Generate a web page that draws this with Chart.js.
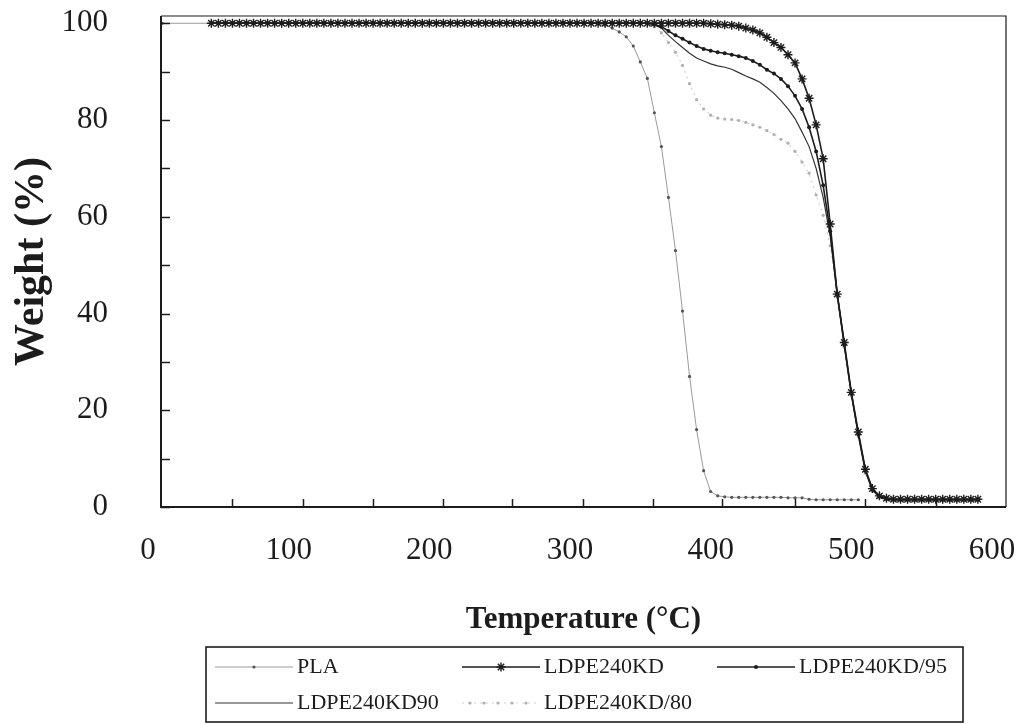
<!DOCTYPE html>
<html>
<head>
<meta charset="utf-8">
<script src="https://cdn.jsdelivr.net/npm/chart.js@4"></script>
<style>
  body { margin: 0; background: #fff; }
  #wrap { width: 1022px; height: 724px; }
</style>
</head>
<body>
<div id="wrap"><canvas id="tga" width="1022" height="724"></canvas></div>
<script>
// temperature (°C) of each reading
const temps = [
  10,
  45, 50, 55, 60, 65, 70, 75, 80, 85, 90,
  95, 100, 105, 110, 115, 120, 125, 130, 135, 140,
  145, 150, 155, 160, 165, 170, 175, 180, 185, 190,
  195, 200, 205, 210, 215, 220, 225, 230, 235, 240,
  245, 250, 255, 260, 265, 270, 275, 280, 285, 290,
  295, 300, 305, 310, 315, 320, 325, 330, 335, 340,
  345, 350, 355, 360, 365, 370, 375, 380, 385, 390,
  395, 400, 405, 410, 415, 420, 425, 430, 435, 440,
  445, 450, 455, 460, 465, 470, 475, 480, 485, 490,
  495, 500, 505, 510, 515, 520, 525, 530, 535, 540,
  545, 550, 555, 560, 565, 570, 575, 580, 585, 590
];

// weight (%)
const pla = [
  100,
  100, 100, 100, 100, 100, 100, 100, 100, 100, 100,
  100, 100, 100, 100, 100, 100, 100, 100, 100, 100,
  100, 100, 100, 100, 100, 100, 100, 100, 100, 100,
  100, 100, 100, 100, 100, 100, 100, 100, 100, 100,
  100, 100, 100, 100, 100, 100, 100, 100, 100, 100,
  100, 100, 100, 100, 100, 99.9, 99.6, 99, 98.2, 97.2,
  95.3, 92, 88.6, 81.5, 74.5, 64, 53, 40.5, 27, 16,
  7.5, 3.2, 2.3, 2.1, 2, 2, 2, 2, 2, 2,
  2, 2, 1.9, 1.9, 1.9, 1.6, 1.5, 1.5, 1.5, 1.5,
  1.5, 1.5, 1.5, null, null, null, null, null, null, null,
  null, null, null, null, null, null, null, null, null, null
];

const ldpe = [
  null,
  100, 100, 100, 100, 100, 100, 100, 100, 100, 100,
  100, 100, 100, 100, 100, 100, 100, 100, 100, 100,
  100, 100, 100, 100, 100, 100, 100, 100, 100, 100,
  100, 100, 100, 100, 100, 100, 100, 100, 100, 100,
  100, 100, 100, 100, 100, 100, 100, 100, 100, 100,
  100, 100, 100, 100, 100, 100, 100, 100, 100, 100,
  100, 100, 100, 100, 100, 100, 100, 100, 100, 100,
  100, 99.9, 99.8, 99.7, 99.6, 99.4, 99, 98.6, 98, 97.1,
  96, 95, 93.5, 91.8, 88.5, 84.5, 79, 72, 58.5, 44,
  34, 23.7, 15.5, 7.8, 3.8, 2.3, 1.8, 1.6, 1.6, 1.6,
  1.6, 1.6, 1.6, 1.6, 1.6, 1.6, 1.6, 1.6, 1.6, 1.6
];

const ldpe95 = [
  null,
  100, 100, 100, 100, 100, 100, 100, 100, 100, 100,
  100, 100, 100, 100, 100, 100, 100, 100, 100, 100,
  100, 100, 100, 100, 100, 100, 100, 100, 100, 100,
  100, 100, 100, 100, 100, 100, 100, 100, 100, 100,
  100, 100, 100, 100, 100, 100, 100, 100, 100, 100,
  100, 100, 100, 100, 100, 100, 100, 100, 100, 100,
  100, 100, 100, 99.8, 99.3, 98.4, 97.5, 96.8, 96, 95.3,
  94.7, 94.3, 94, 93.8, 93.5, 93.2, 92.8, 92.2, 91.4, 90.4,
  89.6, 88.5, 87, 85, 82.3, 78.5, 73.5, 66.5, 57, 44,
  33.5, 23.5, 15, 7.5, 3.6, 2.2, 1.7, 1.5, 1.5, 1.5,
  1.5, 1.5, 1.5, 1.5, 1.5, 1.5, 1.5, 1.5, 1.5, 1.5
];

const ldpe90 = [
  null,
  100, 100, 100, 100, 100, 100, 100, 100, 100, 100,
  100, 100, 100, 100, 100, 100, 100, 100, 100, 100,
  100, 100, 100, 100, 100, 100, 100, 100, 100, 100,
  100, 100, 100, 100, 100, 100, 100, 100, 100, 100,
  100, 100, 100, 100, 100, 100, 100, 100, 100, 100,
  100, 100, 100, 100, 100, 100, 100, 100, 100, 100,
  100, 100, 100, 99.7, 99, 97.5, 96.2, 95, 93.8, 92.8,
  92.2, 91.6, 91.2, 90.9, 90.5, 89.8, 89.1, 88.5, 87.8, 86.7,
  85.5, 84, 82.3, 80.3, 77.5, 74.5, 70, 64, 56, 44,
  33.5, 23.5, 15, 7.5, 3.5, 2, 1.5, 1.4, 1.4, 1.4,
  1.4, 1.4, 1.4, 1.4, 1.4, 1.4, 1.4, 1.4, 1.4, 1.4
];

const ldpe80 = [
  null,
  100, 100, 100, 100, 100, 100, 100, 100, 100, 100,
  100, 100, 100, 100, 100, 100, 100, 100, 100, 100,
  100, 100, 100, 100, 100, 100, 100, 100, 100, 100,
  100, 100, 100, 100, 100, 100, 100, 100, 100, 100,
  100, 100, 100, 100, 100, 100, 100, 100, 100, 100,
  100, 100, 100, 100, 100, 100, 100, 100, 100, 100,
  100, 100, 100, 99.3, 98, 96, 94, 91.3, 87.5, 84.2,
  82.3, 81, 80.4, 80.2, 80.1, 79.9, 79.5, 79, 78.5, 77.8,
  77, 76, 75.2, 73.5, 71.3, 69, 64.5, 60.3, 54, 43.5,
  33, 23, 14.5, 7, 3.3, 1.9, 1.5, 1.4, 1.4, 1.4,
  1.4, 1.4, 1.4, 1.4, 1.4, 1.4, 1.4, 1.4, 1.4, 1.4
];

// axis labels and the small inward tick marks
const xLabels = [0, 100, 200, 300, 400, 500, 600];
const xTickMarks = [60, 110, 160, 210, 259, 309, 359, 408, 460, 510, 560];
const yTickMarks = [0, 10, 20, 30, 40, 50, 60, 70, 80, 90, 100];

const serif = "'Liberation Serif', 'DejaVu Serif', serif";
const ink = '#1c1c1c';

const pts = ys => temps.map((t, i) => ({ x: t, y: ys[i] }));

const datasets = [
  {
    label: 'PLA',
    data: pts(pla),
    borderColor: '#9a9a9a',
    borderWidth: 1,
    pointStyle: 'circle',
    pointRadius: 1.6,
    pointBackgroundColor: '#555',
    pointBorderWidth: 0,
    order: 3
  },
  {
    label: 'LDPE240KD',
    data: pts(ldpe),
    borderColor: ink,
    borderWidth: 1.6,
    pointStyle: 'star',
    pointRadius: 4.5,
    pointBorderColor: ink,
    pointBorderWidth: 1.4,
    order: 0
  },
  {
    label: 'LDPE240KD/95',
    data: pts(ldpe95),
    borderColor: ink,
    borderWidth: 1.6,
    pointStyle: 'circle',
    pointRadius: 2,
    pointBackgroundColor: ink,
    pointBorderWidth: 0,
    order: 1
  },
  {
    label: 'LDPE240KD90',
    data: pts(ldpe90),
    borderColor: '#333',
    borderWidth: 1.2,
    pointRadius: 0,
    order: 2
  },
  {
    label: 'LDPE240KD/80',
    data: pts(ldpe80),
    borderColor: '#d2d2d2',
    borderWidth: 1.2,
    borderDash: [2, 4],
    pointStyle: 'circle',
    pointRadius: 1.6,
    pointBackgroundColor: '#b0b0b0',
    pointBorderWidth: 0,
    order: 4
  }
];

// legend slots (layout only)
const legendSlots = [[215, 667], [462, 667], [717, 667], [215, 703], [462, 703]];

const framePlugin = {
  id: 'frame',
  beforeDraw(chart) {
    const ctx = chart.ctx;
    ctx.save();
    ctx.fillStyle = '#fff';
    ctx.fillRect(0, 0, chart.width, chart.height);
    ctx.restore();
  },
  afterDraw(chart) {
    const { ctx, chartArea: a, scales: { x, y } } = chart;
    ctx.save();
    ctx.strokeStyle = ink;
    ctx.lineCap = 'butt';

    // top + right (thin)
    ctx.lineWidth = 1.2;
    ctx.beginPath();
    ctx.moveTo(a.left, a.top);
    ctx.lineTo(a.right, a.top);
    ctx.lineTo(a.right, a.bottom);
    ctx.stroke();

    // left + bottom axes
    ctx.lineWidth = 2;
    ctx.beginPath();
    ctx.moveTo(a.left, a.top);
    ctx.lineTo(a.left, a.bottom);
    ctx.lineTo(a.right, a.bottom);
    ctx.stroke();

    // inward tick marks
    ctx.lineWidth = 1.5;
    yTickMarks.forEach(v => {
      const py = Math.round(y.getPixelForValue(v)) + 0.5;
      ctx.beginPath();
      ctx.moveTo(a.left, py);
      ctx.lineTo(a.left + 9, py);
      ctx.stroke();
    });
    xTickMarks.forEach(v => {
      const px = Math.round(x.getPixelForValue(v)) + 0.5;
      ctx.beginPath();
      ctx.moveTo(px, a.bottom);
      ctx.lineTo(px, a.bottom - 8);
      ctx.stroke();
    });

    // legend box
    ctx.lineWidth = 1.6;
    ctx.strokeRect(206, 647, 757, 75);
    ctx.font = '22px ' + serif;
    ctx.textBaseline = 'middle';
    ctx.textAlign = 'left';
    chart.data.datasets.forEach((ds, i) => {
      const [lx, ly] = legendSlots[i];
      ctx.save();
      ctx.strokeStyle = ds.borderColor;
      ctx.lineWidth = ds.borderWidth;
      ctx.setLineDash(ds.borderDash || []);
      ctx.beginPath();
      ctx.moveTo(lx, ly);
      ctx.lineTo(lx + 78, ly);
      ctx.stroke();
      ctx.setLineDash([]);
      if (ds.pointRadius > 0) {
        ctx.fillStyle = ds.pointBackgroundColor || ds.borderColor;
        ctx.strokeStyle = ds.pointBorderColor || ds.borderColor;
        ctx.lineWidth = ds.pointBorderWidth || 0;
        const mids = ds.label === 'LDPE240KD/80' ? [lx + 8, lx + 22, lx + 36, lx + 50, lx + 64] : [lx + 39];
        mids.forEach(mx => {
          Chart.helpers.drawPoint(ctx, {
            pointStyle: ds.pointStyle,
            radius: ds.pointRadius,
            rotation: 0,
            borderWidth: ds.pointBorderWidth || 0
          }, mx, ly);
        });
      }
      ctx.restore();
      ctx.fillStyle = ink;
      ctx.fillText(ds.label, lx + 82, ly);
    });
    ctx.restore();
  }
};

// keep the plot box fixed: no extra room for overflowing tick labels
const noPad = scale => {
  scale.paddingTop = 0;
  scale.paddingBottom = 0;
  scale.paddingLeft = 0;
  scale.paddingRight = 0;
};

const config = {
  type: 'line',
  data: { datasets: datasets },
  options: {
    responsive: false,
    animation: false,
    spanGaps: false,
    layout: { padding: { top: 16, right: 16, bottom: 85, left: 0 } },
    elements: { line: { tension: 0 } },
    plugins: {
      legend: { display: false },
      tooltip: { enabled: false }
    },
    scales: {
      x: {
        type: 'linear',
        min: 9.2,
        max: 610,
        grid: { display: false, drawTicks: false },
        border: { display: false },
        afterBuildTicks: scale => {
          scale.ticks = xLabels.map(v => ({ value: v }));
        },
        afterFit: scale => {
          scale.height = 132;
          noPad(scale);
        },
        ticks: {
          autoSkip: false,
          maxRotation: 0,
          padding: 25,
          color: ink,
          font: { family: serif, size: 31 }
        },
        title: {
          display: true,
          text: 'Temperature (°C)',
          color: ink,
          padding: 0,
          font: { family: serif, size: 31, weight: 'bold' }
        }
      },
      y: {
        min: 0,
        max: 101.5,
        grid: { display: false, drawTicks: false },
        border: { display: false },
        afterBuildTicks: scale => {
          scale.ticks = yTickMarks.map(v => ({ value: v }));
        },
        afterFit: scale => {
          scale.width = 161;
          noPad(scale);
        },
        ticks: {
          padding: 53,
          color: ink,
          font: { family: serif, size: 31 },
          callback: v => (v % 20 === 0 ? v : '')
        },
        title: {
          display: true,
          text: 'Weight (%)',
          color: ink,
          padding: { top: 7, bottom: 0 },
          font: { family: serif, size: 42, weight: 'bold' }
        }
      }
    }
  },
  plugins: [framePlugin]
};

const tgaChart = new Chart(document.getElementById('tga'), config);
</script>
</body>
</html>
